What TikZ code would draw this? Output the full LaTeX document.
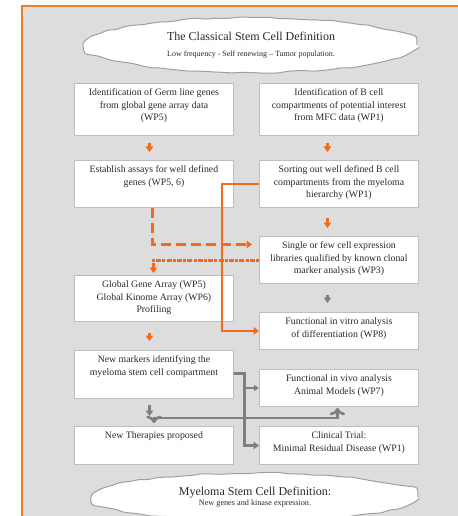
\documentclass[tikz,border=0pt]{standalone}
\usepackage{fontspec}
\setmainfont{Liberation Serif}
\usetikzlibrary{calc,arrows.meta,shapes.geometric,decorations.pathmorphing}
\definecolor{frameor}{HTML}{ED7D31}
\definecolor{arror}{HTML}{F26A1B}
\definecolor{bggray}{HTML}{DDDDDD}
\definecolor{boxline}{HTML}{BEBEBE}
\definecolor{arrgray}{HTML}{7F7F7F}
\definecolor{txt}{HTML}{2A2A2A}
\newcommand{\bxt}[2]{\parbox[t][#1][t]{159bp}{\centering\rule{0pt}{12.5bp}#2}}
\pgfmathsetseed{7}
\begin{document}
\begin{tikzpicture}[x=1bp,y=-1bp,
  box/.style={draw=boxline, line width=0.9bp, fill=white, anchor=north west, inner sep=0pt,
    font=\fontsize{9.8bp}{12.5bp}\selectfont, text=txt},
  cloudy/.style={ellipse, draw=gray!75, fill=white, line width=1bp, inner sep=0pt, align=center, text=txt,
    decorate, decoration={random steps, segment length=9bp, amplitude=0.9bp}, rounded corners=3bp},
  oar/.style={draw=arror, line width=2.8bp, -{Triangle[length=5.5bp,width=7.5bp]}},
  gar/.style={draw=arrgray, line width=3bp, -{Triangle[length=5.5bp,width=7.5bp]}},
  garthin/.style={draw=arrgray, line width=1.8bp, -{Triangle[length=5bp,width=6bp]}},
  odash/.style={oar, dash pattern=on 10bp off 5bp},
  odot/.style={oar, line width=3bp, dash pattern=on 3bp off 1.2bp on 5bp off 1.2bp}]
\clip (0,0) rectangle (458,516);
\useasboundingbox (0,0) rectangle (458,516);
\fill[white] (0,0) rectangle (458,516);
\fill[bggray] (22,6) rectangle (462,520);
\draw[frameor, line width=2bp] (22,520) -- (22,6) -- (462,6);

% clouds
\node[cloudy, minimum width=332bp, minimum height=55bp] (top) at (251,45)
  {\fontsize{12bp}{14bp}\selectfont The Classical Stem Cell Definition\\[4bp]
   \fontsize{8bp}{9bp}\selectfont Low frequency - Self renewing -- Tumor population.};
\node[cloudy, minimum width=326bp, minimum height=48bp] (bot) at (255,497)
  {\fontsize{12bp}{13bp}\selectfont Myeloma Stem Cell Definition:\\[-2.5bp]
   \fontsize{8.2bp}{9bp}\selectfont New genes and kinase expression.};

% boxes
\node[box] (A) at (74,83) {\bxt{52bp}{Identification of Germ line genes\\ from global gene array data\\ (WP5)}};
\node[box] (B) at (259,83) {\bxt{52bp}{Identification of B cell\\ compartments of potential interest\\ from MFC data (WP1)}};
\node[box] (C) at (74,160) {\bxt{47bp}{Establish assays for well defined\\ genes (WP5, 6)}};
\node[box] (D) at (259,160) {\bxt{47bp}{Sorting out well defined B cell\\ compartments from the myeloma\\ hierarchy (WP1)}};
\node[box] (E) at (259,236) {\bxt{47bp}{Single or few cell expression\\ libraries qualified by known clonal\\ marker analysis (WP3)}};
\node[box] (F) at (74,275) {\bxt{46bp}{Global Gene Array (WP5)\\ Global Kinome Array (WP6)\\ Profiling}};
\node[box] (G) at (259,312) {\bxt{37bp}{\rule{0pt}{1.5bp}Functional in vitro analysis\\ of differentiation (WP8)}};
\node[box] (H) at (74,350) {\bxt{48bp}{\rule{0pt}{1bp}New markers identifying the\\ myeloma stem cell compartment}};
\node[box] (I) at (259,369) {\bxt{37bp}{Functional in vivo analysis\\ Animal Models (WP7)}};
\node[box] (J) at (74,426) {\bxt{38bp}{\rule{0pt}{1bp}New Therapies proposed}};
\node[box] (K) at (259,426) {\bxt{38bp}{\rule{0pt}{1bp}Clinical Trial:\\ Minimal Residual Disease (WP1)}};

% short arrows
\draw[oar, shorten <=7bp, shorten >=8bp] ($(A.south)+(-4.5,0)$) -- ($(C.north)+(-4.5,0)$);
\draw[oar, shorten <=7bp, shorten >=8bp] ($(B.south)+(-11.5,0)$) -- ($(D.north)+(-11.5,0)$);
\draw[oar, shorten <=10bp, shorten >=8bp] ($(D.south)+(-11.5,0)$) -- ($(E.north)+(-11.5,0)$);
\draw[gar, line width=2.6bp, shorten <=11bp, shorten >=9bp] ($(E.south)+(-11.5,0)$) -- ($(G.north)+(-11.5,0)$);
\draw[oar, shorten <=11bp, shorten >=9bp] ($(F.south)+(-4.5,0)$) -- ($(H.north)+(-4.5,0)$);
\draw[gar, line width=2.6bp, shorten <=6bp, shorten >=10bp] ($(H.south)+(-4.5,0)$) -- ($(J.north)+(-4.5,0)$);

% long orange connectors
\draw[odash] ($(C.south)+(-1.5,0)$) |- ($(E.west)+(-7,-15.5)$);
\draw[odot] ($(E.west)+(0,0.5)$) -| ($(F.north)+(-0.5,-2)$);
\draw[oar] (D.west) -- ++(-37,0) |- (G.west);

% gray connectors
\draw[gar] ($(H.east)+(0,-1)$) -- ++(11,0) |- (K.west);
\draw[garthin] ($(I.west)+(-13,0)$) -- (I.west);
\draw[gar, <->, line width=2.6bp] ($(J.north)+(0,-3)$) |- ($(I.south)+(-1.5,11)$) -- ($(I.south)+(-1.5,1)$);
\end{tikzpicture}
\end{document}
